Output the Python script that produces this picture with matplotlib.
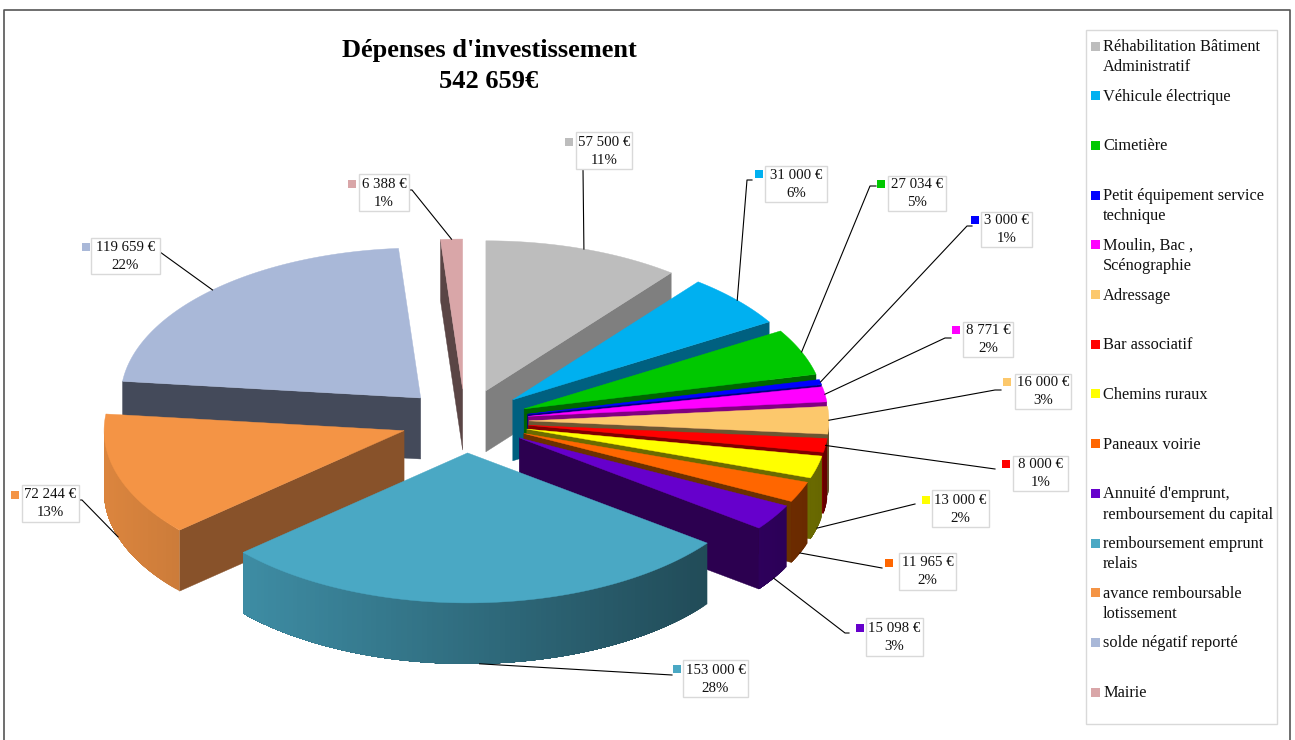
import numpy as np
import matplotlib
matplotlib.use('Agg')
import matplotlib.pyplot as plt
from matplotlib.patches import Polygon, Rectangle
from matplotlib.colors import to_rgb

plt.rcParams['font.family'] = ['Liberation Serif', 'DejaVu Serif']

# data
categories = ['Réhabilitation Bâtiment\nAdministratif', 'Véhicule électrique', 'Cimetière',
              'Petit équipement service\ntechnique', 'Moulin, Bac ,\nScénographie', 'Adressage',
              'Bar associatif', 'Chemins ruraux', 'Paneaux voirie',
              "Annuité d'emprunt,\nremboursement du capital", 'remboursement emprunt\nrelais',
              'avance remboursable\nlotissement', 'solde négatif reporté', 'Mairie']
values = [57500, 31000, 27034, 3000, 8771, 16000, 8000, 13000, 11965, 15098, 153000, 72244, 119659, 6388]
title_lines = "Dépenses d'investissement\n542 659€"

# colours
top_colors = ['#bdbdbd', '#00b0f0', '#00c800', '#0000ff', '#ff00ff', '#fcc86c', '#ff0000',
              '#ffff00', '#ff6600', '#6600cc', '#4aa8c4', '#f49445', '#a9b8d8', '#d9a6a8']
wall_colors = ['#7f7f7f', '#006080', '#006400', '#000080', '#800080', '#6b5632', '#800000',
               '#6b6b00', '#6b3000', '#2c0050', '#1f4450', '#88522a', '#444a5a', '#5a4545']

# layout, in pixels
cx, cy = 465, 421
rx, ry = 300, 150
explode = 0.213
depth = 61

# label box (x0, y0, x1, y1), colour key centre, then where the leader line goes
boxes = [(576, 132, 632, 169), (765, 166, 827, 202), (888, 176, 946, 211), (981, 212, 1032, 247),
         (963, 322, 1013, 357), (1015, 374, 1071, 409), (1013, 456, 1068, 491), (932, 490, 989, 527),
         (899, 553, 956, 590), (866, 618, 923, 656), (683, 660, 748, 697), (22, 485, 79, 522),
         (91, 238, 160, 274), (359, 174, 409, 211)]
keys = [(569, 142), (759, 174), (881, 184), (975, 220), (956, 330), (1007, 382), (1006, 464),
        (926, 500), (889, 563), (860, 628), (677, 669), (15, 495), (86, 247), (352, 184)]
leader_ends = [[(583, 169)], [(747, 180), (752, 180)], [(870, 186), (876, 186)], [(967, 226), (972, 226)],
               [(945, 338), (951, 338)], [(995, 390), (1001, 390)], [(995, 469)], [(915, 504)],
               [(882, 568)], [(845, 633), (849, 633)], [(672, 675)], [(82, 500), (79, 500)],
               [(160, 252)], [(412, 190), (410, 190)]]


def shade(color, f):
    return tuple(c * f for c in to_rgb(color))


def point(apex, a, r=1.0):
    return apex[0] + rx * r * np.sin(a), apex[1] - ry * r * np.cos(a)


total = sum(values)
edges = np.radians(np.concatenate([[0], np.cumsum(values)]) / total * 360)
mids = (edges[:-1] + edges[1:]) / 2

fig = plt.figure(figsize=(12.95, 7.4), dpi=100)
ax = fig.add_axes([0, 0, 1, 1])
ax.set_xlim(0, 1295)
ax.set_ylim(740, 0)
ax.axis('off')

# outer frame
ax.plot([4, 4, 1290, 1290], [740, 10, 10, 740], color='#555555', lw=1.2, zorder=1)

# slices, back to front
z = 2
for i in np.argsort(-np.cos(mids)):
    a0, a1 = edges[i], edges[i + 1]
    apex = (cx + rx * explode * np.sin(mids[i]), cy - ry * explode * np.cos(mids[i]))
    arc = [point(apex, a) for a in np.linspace(a0, a1, 80)]

    # flat side walls, only the ones turned towards the viewer
    for a, visible in ((a0, np.sin(a0) < 0), (a1, np.sin(a1) > 0)):
        if visible:
            p = point(apex, a)
            ax.add_patch(Polygon([apex, p, (p[0], p[1] + depth), (apex[0], apex[1] + depth)],
                                 fc=wall_colors[i], ec=wall_colors[i], lw=0.3, zorder=z))

    # rounded front wall with its shading, the pieces overlap so no seams show
    s0, s1 = max(a0, np.pi / 2), min(a1, 3 * np.pi / 2)
    if s1 > s0:
        steps = np.linspace(s0, s1, int(np.degrees(s1 - s0)) + 2)
        for b0 in steps[:-1]:
            f = 0.65 - 0.25 * np.sin(b0)
            c = shade(top_colors[i], f)
            part = [point(apex, b) for b in np.linspace(b0, s1, 60)]
            low = [(p[0], p[1] + depth) for p in part[::-1]]
            ax.add_patch(Polygon(part + low, fc=c, ec='none', zorder=z))

    ax.add_patch(Polygon([apex] + arc, fc=top_colors[i], ec=top_colors[i], lw=0.3, zorder=z + 0.5))
    z += 1

# data labels and leader lines
for i, v in enumerate(values):
    apex = (cx + rx * explode * np.sin(mids[i]), cy - ry * explode * np.cos(mids[i]))
    x, y = point(apex, mids[i])
    if np.radians(100) < mids[i] < np.radians(270):
        y += depth
    pts = [(x, y)] + leader_ends[i]
    ax.plot([p[0] for p in pts], [p[1] for p in pts], color='black', lw=0.8, zorder=50)

    x0, y0, x1, y1 = boxes[i]
    ax.add_patch(Rectangle((x0, y0), x1 - x0, y1 - y0, fc='white', ec='#d9d9d9', lw=1, zorder=51))
    label = f"{v:,}".replace(',', ' ') + " €\n" + f"{round(v / total * 100)}%"
    ax.text((x0 + x1) / 2, (y0 + y1) / 2 + 0.5, label, ha='center', va='center', fontsize=10.7,
            color='#111111', linespacing=1.5, zorder=52)
    kx, ky = keys[i]
    ax.add_patch(Rectangle((kx - 4, ky - 4), 8, 8, fc=top_colors[i], ec='none', zorder=52))

# title
ax.text(489, 66, title_lines, ha='center', va='center', fontsize=19, fontweight='bold',
        color='black', linespacing=1.48, zorder=52)

# legend
ax.add_patch(Rectangle((1086, 30), 191, 694, fc='white', ec='#d9d9d9', lw=1, zorder=51))
for i, name in enumerate(categories):
    ly = 46 + 49.7 * i
    ax.add_patch(Rectangle((1091, ly - 4.5), 9, 9, fc=top_colors[i], ec='none', zorder=52))
    ax.text(1103, ly - 7, name, ha='left', va='top', fontsize=11.8, color='#111111',
            linespacing=1.36, zorder=52)

fig.savefig('out.png', dpi=100, facecolor='white')
